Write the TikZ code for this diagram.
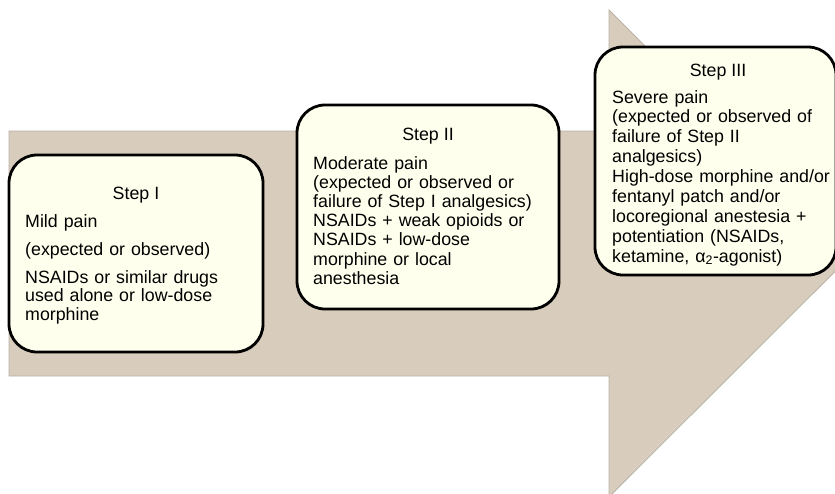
\documentclass[tikz,border=0pt]{standalone}
\usepackage{fontspec}
\setmainfont{Liberation Sans}
\usetikzlibrary{shadows}
\definecolor{arrowfill}{HTML}{D8CCBD}
\definecolor{arrowedge}{HTML}{B8B0A6}
\definecolor{boxfill}{HTML}{FFFFEE}
\begin{document}
\begin{tikzpicture}[x=1pt,y=-1pt,
  stepbox/.style={draw=black, line width=2.8pt, fill=boxfill, rounded corners=28pt, inner sep=0pt,
    drop shadow={shadow xshift=1.2pt, shadow yshift=-1.2pt, opacity=0.35, fill=black!60}},
  steptitle/.style={anchor=base, inner sep=0pt, font=\fontsize{17.8}{19}\selectfont},
  stepbody/.style={anchor=base west, inner sep=0pt, text width=250pt, align=left}
]
\useasboundingbox (0,0) rectangle (835,493);
\clip (0,0) rectangle (835,493);
% big arrow
\fill[arrowfill, draw=arrowedge, line width=0.8pt]
  (9,131) -- (609,131) -- (609,10) -- (853,253.5) -- (609,497) -- (609,376) -- (9,376) -- cycle;
% boxes
\node[stepbox, minimum width=254pt, minimum height=197pt] (b1) at (136,253.5) {};
\node[stepbox, minimum width=262pt, minimum height=204pt] (b2) at (428,207) {};
\node[stepbox, minimum width=241pt, minimum height=228pt] (b3) at (715.5,161) {};
% titles
\node[steptitle] (t1) at (136,199) {Step I};
\node[steptitle] (t2) at (428,140) {Step II};
\node[steptitle] (t3) at (718,76) {Step III};
% bodies
\node[stepbody, font=\fontsize{17.8}{18.7}\selectfont] (x1) at (25,227)
  {Mild pain\\[9.3pt](expected or observed)\\[9.3pt]NSAIDs or similar drugs\\used alone or low-dose\\morphine};
\node[stepbody, font=\fontsize{17.8}{19.2}\selectfont] (x2) at (313,169)
  {Moderate pain\\(expected or observed or\\failure of Step I analgesics)\\NSAIDs + weak opioids or\\NSAIDs + low-dose\\morphine or local\\anesthesia};
\node[stepbody, font=\fontsize{17.8}{19.9}\selectfont] (x3) at (612,103)
  {Severe pain\\(expected or observed of\\failure of Step II\\analgesics)\\High-dose morphine and/or\\fentanyl patch and/or\\locoregional anestesia +\\potentiation (NSAIDs,\\ketamine, α\textsubscript{2}-agonist)};
\end{tikzpicture}
\end{document}
